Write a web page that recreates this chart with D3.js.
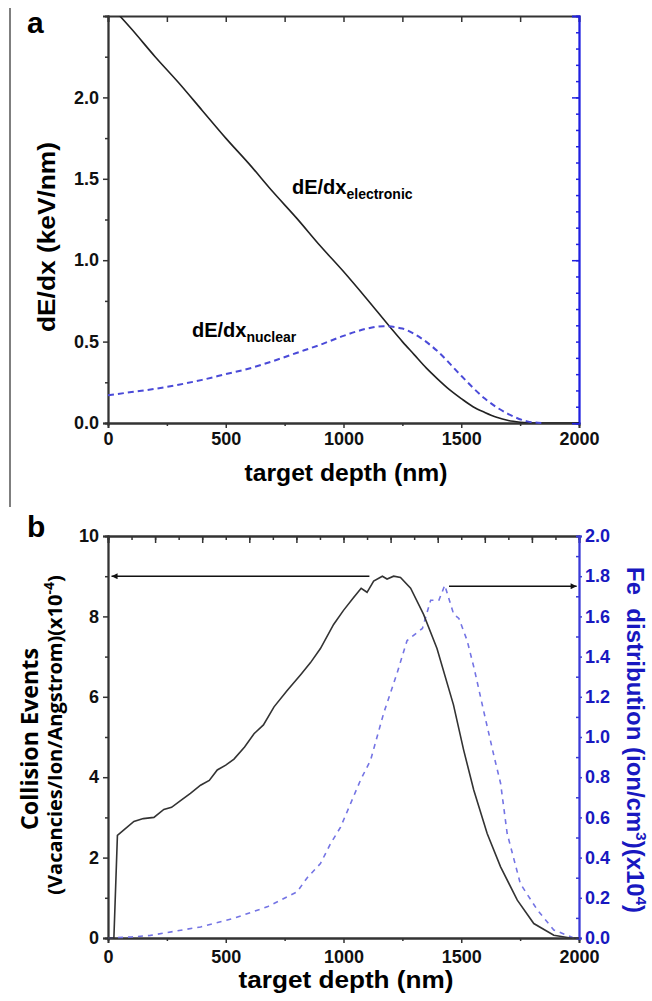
<!DOCTYPE html>
<html>
<head>
<meta charset="utf-8">
<script src="https://cdn.jsdelivr.net/npm/d3@7"></script>
<style>
  body { margin: 0; background: #fff; }
  svg { display: block; }
  text { font-family: "Liberation Sans", Arial, sans-serif; font-weight: bold; }
</style>
</head>
<body>
<svg id="svg-chart" width="652" height="1001"></svg>
<script>
// ---- data, panel a ----
var depthElectronic = [0, 100, 200, 300, 400, 500, 600, 700, 800, 900, 1000, 1100, 1200, 1250, 1300, 1350, 1400, 1450, 1500, 1550, 1600, 1650, 1700, 1750, 1800, 2000];
var valueElectronic = [2.58, 2.42, 2.25, 2.09, 1.92, 1.75, 1.59, 1.42, 1.26, 1.09, 0.93, 0.76, 0.585, 0.50, 0.42, 0.34, 0.27, 0.205, 0.15, 0.10, 0.065, 0.035, 0.015, 0.005, 0, 0];
var depthNuclear = [0, 100, 200, 300, 400, 500, 600, 700, 800, 900, 1000, 1100, 1170, 1250, 1320, 1400, 1500, 1600, 1700, 1780, 1840];
var valueNuclear = [0.17, 0.19, 0.21, 0.235, 0.265, 0.30, 0.335, 0.38, 0.43, 0.48, 0.535, 0.58, 0.595, 0.58, 0.53, 0.44, 0.29, 0.15, 0.055, 0.01, 0];

// ---- data, panel b ----
var depthCollision = [0, 25, 40, 70, 110, 150, 195, 237, 270, 308, 350, 393, 430, 464, 500, 535, 580, 620, 660, 705, 760, 818, 860, 902, 958, 1000, 1043, 1075, 1100, 1128, 1165, 1185, 1213, 1242, 1285, 1340, 1397, 1467, 1510, 1553, 1610, 1667, 1738, 1808, 1893, 1963, 2000];
var valueCollision = [0, 0, 2.55, 2.7, 2.9, 2.97, 3.0, 3.2, 3.25, 3.42, 3.6, 3.8, 3.92, 4.18, 4.3, 4.45, 4.75, 5.08, 5.3, 5.75, 6.15, 6.55, 6.85, 7.2, 7.8, 8.15, 8.47, 8.7, 8.6, 8.88, 9.0, 8.93, 9.0, 8.97, 8.7, 8.05, 7.2, 5.8, 4.68, 3.68, 2.6, 1.77, 0.94, 0.36, 0.07, 0, 0];
var depthFe = [0, 100, 180, 393, 535, 676, 803, 846, 902, 945, 987, 1072, 1115, 1171, 1228, 1270, 1313, 1335, 1370, 1405, 1430, 1468, 1490, 1525, 1555, 1597, 1640, 1667, 1695, 1751, 1823, 1893, 1978];
var valueFe = [0, 0.005, 0.013, 0.055, 0.098, 0.155, 0.23, 0.3, 0.37, 0.47, 0.55, 0.785, 0.885, 1.12, 1.32, 1.48, 1.52, 1.54, 1.68, 1.68, 1.755, 1.61, 1.59, 1.48, 1.34, 1.12, 0.9, 0.77, 0.52, 0.27, 0.14, 0.04, 0];

// ticks
var xTicksMajor = [0, 500, 1000, 1500, 2000];
var xTicksMinor = [250, 750, 1250, 1750];
var xTicksTopB = d3.range(0, 2001, 100);
var yTicksA = [0, 0.5, 1.0, 1.5, 2.0];
var yTicksB = [0, 2, 4, 6, 8, 10];
var yTicksFe = [0, 0.2, 0.4, 0.6, 0.8, 1.0, 1.2, 1.4, 1.6, 1.8, 2.0];

function zip(xs, ys) { return xs.map(function(d, i) { return {x: d, y: ys[i]}; }); }

function init() {
  var svg = d3.select("#svg-chart");
  var blue = "#2020e0";
  var blueText = "#1818c0";

  // panel a scales
  var xA = d3.scaleLinear().domain([0, 2000]).range([108, 579]);
  var yA = d3.scaleLinear().domain([0, 2.5]).range([423, 16]);
  // panel b scales
  var xB = d3.scaleLinear().domain([0, 2000]).range([108, 579]);
  var yB = d3.scaleLinear().domain([0, 10]).range([938, 536]);
  var yFe = d3.scaleLinear().domain([0, 2]).range([938, 536]);

  // left rule
  svg.append("line").attr("x1", 10).attr("x2", 10).attr("y1", 8).attr("y2", 507)
     .attr("stroke", "#555").attr("stroke-width", 1.5);

  var defs = svg.append("defs");
  defs.append("clipPath").attr("id", "clipA").append("rect")
      .attr("x", 108).attr("y", 16).attr("width", 471).attr("height", 407);
  defs.append("marker").attr("id", "arrow").attr("viewBox", "0 0 10 10")
      .attr("refX", 10).attr("refY", 5).attr("markerWidth", 10).attr("markerHeight", 6)
      .attr("markerUnits", "userSpaceOnUse").attr("orient", "auto")
      .append("path").attr("d", "M0,0L10,5L0,10z").attr("fill", "#111");

  ////////////////////////////////////////////////////////////////////////////////
  // PANEL A
  var gA = svg.append("g");
  // left axis
  gA.append("g").attr("transform", "translate(108,0)")
    .call(d3.axisLeft(yA).tickValues(yTicksA).tickFormat(d3.format(".1f")).tickSize(5).tickPadding(4))
    .call(styleAxis, "#333", 18);
  gA.append("g").attr("transform", "translate(108,0)")
    .call(d3.axisLeft(yA).tickValues([0.25, 0.75, 1.25, 1.75, 2.25]).tickFormat("").tickSize(3))
    .call(styleAxis, "#333", 18);
  // bottom axis
  gA.append("g").attr("transform", "translate(0,423)")
    .call(d3.axisBottom(xA).tickValues(xTicksMajor).tickFormat(d3.format("d")).tickSize(5).tickPadding(4))
    .call(styleAxis, "#333", 18);
  gA.append("g").attr("transform", "translate(0,423)")
    .call(d3.axisBottom(xA).tickValues(xTicksMinor).tickFormat("").tickSize(3))
    .call(styleAxis, "#333", 18);
  // top axis, ticks inward
  gA.append("g").attr("transform", "translate(0,16)")
    .call(d3.axisTop(xA).tickValues(xTicksMajor.concat(xTicksMinor)).tickFormat("").tickSize(-6))
    .call(styleAxis, "#333", 18);
  // right blue axis, ticks inward
  gA.append("g").attr("transform", "translate(579,0)")
    .call(d3.axisRight(yA).tickValues(d3.range(0, 25).map(function(d) { return d / 10; })).tickFormat("").tickSize(-3))
    .call(styleAxis, blue, 18);
  gA.append("g").attr("transform", "translate(579,0)")
    .call(d3.axisRight(yA).tickValues([1.0, 2.0]).tickFormat("").tickSize(-7))
    .call(styleAxis, blue, 18);

  var lineA = d3.line().x(function(d) { return xA(d.x); }).y(function(d) { return yA(d.y); }).curve(d3.curveMonotoneX);
  gA.append("path").datum(zip(depthElectronic, valueElectronic))
    .attr("clip-path", "url(#clipA)")
    .attr("d", lineA).attr("fill", "none").attr("stroke", "#222").attr("stroke-width", 1.6);
  gA.append("path").datum(zip(depthNuclear, valueNuclear))
    .attr("d", lineA).attr("fill", "none").attr("stroke", "#4a4ad8").attr("stroke-width", 2)
    .attr("stroke-dasharray", "6,4");

  // labels
  svg.append("text").attr("x", 27).attr("y", 33).attr("font-size", 30).text("a");
  svg.append("text").attr("transform", "translate(55,237) rotate(-90)")
     .attr("text-anchor", "middle").attr("font-size", 23)
     .attr("textLength", 190).attr("lengthAdjust", "spacingAndGlyphs")
     .text("dE/dx (keV/nm)");
  svg.append("text").attr("x", 346).attr("y", 481).attr("text-anchor", "middle").attr("font-size", 23)
     .attr("textLength", 203).attr("lengthAdjust", "spacingAndGlyphs")
     .text("target depth (nm)");

  var tE = svg.append("text").attr("x", 292).attr("y", 194).attr("font-size", 20);
  tE.append("tspan").text("dE/dx");
  tE.append("tspan").attr("dy", 5).attr("font-size", 14).text("electronic");
  var tN = svg.append("text").attr("x", 192).attr("y", 337).attr("font-size", 20);
  tN.append("tspan").text("dE/dx");
  tN.append("tspan").attr("dy", 5).attr("font-size", 14).text("nuclear");

  ////////////////////////////////////////////////////////////////////////////////
  // PANEL B
  var gB = svg.append("g");
  gB.append("g").attr("transform", "translate(108,0)")
    .call(d3.axisLeft(yB).tickValues(yTicksB).tickFormat(d3.format("d")).tickSize(5).tickPadding(4))
    .call(styleAxis, "#333", 18);
  gB.append("g").attr("transform", "translate(108,0)")
    .call(d3.axisLeft(yB).tickValues([1, 3, 5, 7, 9]).tickFormat("").tickSize(3))
    .call(styleAxis, "#333", 18);
  gB.append("g").attr("transform", "translate(0,938)")
    .call(d3.axisBottom(xB).tickValues(xTicksMajor).tickFormat(d3.format("d")).tickSize(5).tickPadding(7))
    .call(styleAxis, "#333", 18);
  gB.append("g").attr("transform", "translate(0,938)")
    .call(d3.axisBottom(xB).tickValues(xTicksMinor).tickFormat("").tickSize(3))
    .call(styleAxis, "#333", 18);
  gB.append("g").attr("transform", "translate(0,536)")
    .call(d3.axisTop(xB).tickValues(xTicksTopB).tickFormat("").tickSize(-4))
    .call(styleAxis, "#333", 18);
  gB.append("g").attr("transform", "translate(0,536)")
    .call(d3.axisTop(xB).tickValues(xTicksTopB.filter(function(d) { return d % 200 === 0; })).tickFormat("").tickSize(-7))
    .call(styleAxis, "#333", 18);
  var gFe = gB.append("g").attr("transform", "translate(579,0)")
    .call(d3.axisRight(yFe).tickValues(yTicksFe).tickFormat(d3.format(".1f")).tickSize(3).tickPadding(3))
    .call(styleAxis, "#3a3ad8", 18);
  gFe.selectAll(".tick text").attr("fill", blueText);
  gB.append("g").attr("transform", "translate(579,0)")
    .call(d3.axisRight(yFe).tickValues(d3.range(1, 20, 2).map(function(d) { return d / 10; })).tickFormat("").tickSize(-3))
    .call(styleAxis, "#3a3ad8", 18);

  var lineC = d3.line().x(function(d) { return xB(d.x); }).y(function(d) { return yB(d.y); });
  var lineF = d3.line().x(function(d) { return xB(d.x); }).y(function(d) { return yFe(d.y); });
  gB.append("path").datum(zip(depthFe, valueFe))
    .attr("d", lineF).attr("fill", "none").attr("stroke", "#7474e4").attr("stroke-width", 1.6)
    .attr("stroke-dasharray", "5,5");
  gB.append("path").datum(zip(depthCollision, valueCollision))
    .attr("d", lineC).attr("fill", "none").attr("stroke", "#333").attr("stroke-width", 1.6);

  // arrows (in data units)
  gB.append("line").attr("x1", xB(1110)).attr("x2", xB(15)).attr("y1", yB(9.0)).attr("y2", yB(9.0))
    .attr("stroke", "#111").attr("stroke-width", 1.5).attr("marker-end", "url(#arrow)");
  gB.append("line").attr("x1", xB(1448)).attr("x2", xB(1990)).attr("y1", yFe(1.75)).attr("y2", yFe(1.75))
    .attr("stroke", "#111").attr("stroke-width", 1.5).attr("marker-end", "url(#arrow)");

  svg.append("text").attr("x", 27).attr("y", 537).attr("font-size", 30).text("b");

  svg.append("text").attr("transform", "translate(38,739) rotate(-90)")
     .attr("text-anchor", "middle").attr("font-size", 23)
     .style("font-family", "'Open Sans', sans-serif")
     .attr("textLength", 182).attr("lengthAdjust", "spacingAndGlyphs")
     .text("Collision Events");
  var t2 = svg.append("text").attr("transform", "translate(62,735) rotate(-90)")
     .attr("text-anchor", "middle").attr("font-size", 20)
     .style("font-family", "'Open Sans', sans-serif");
  t2.append("tspan").text("(Vacancies/Ion/Angstrom)(x10");
  t2.append("tspan").attr("dy", -8).attr("font-size", 14).text("-4");
  t2.append("tspan").attr("dy", 8).text(")");

  var t3 = svg.append("text").attr("transform", "translate(627,740) rotate(90)")
     .attr("text-anchor", "middle").attr("font-size", 24).attr("fill", blueText);
  t3.append("tspan").text("Fe\u00a0 distribution (ion/cm");
  t3.append("tspan").attr("dy", -9).attr("font-size", 15).text("3");
  t3.append("tspan").attr("dy", 9).text(")(x10");
  t3.append("tspan").attr("dy", -9).attr("font-size", 15).text("4");
  t3.append("tspan").attr("dy", 9).text(")");

  svg.append("text").attr("x", 346).attr("y", 988).attr("text-anchor", "middle").attr("font-size", 24)
     .attr("textLength", 215).attr("lengthAdjust", "spacingAndGlyphs")
     .text("target depth (nm)");

  function styleAxis(g, color, fs) {
    g.select(".domain").attr("stroke", color).attr("stroke-width", 1.8);
    g.selectAll(".tick line").attr("stroke", color).attr("stroke-width", 1.5);
    g.selectAll(".tick text").attr("fill", "#111").attr("font-size", fs)
     .style("font-family", "'Liberation Sans', Arial, sans-serif").style("font-weight", "bold");
  }
}
init();
</script>
</body>
</html>
